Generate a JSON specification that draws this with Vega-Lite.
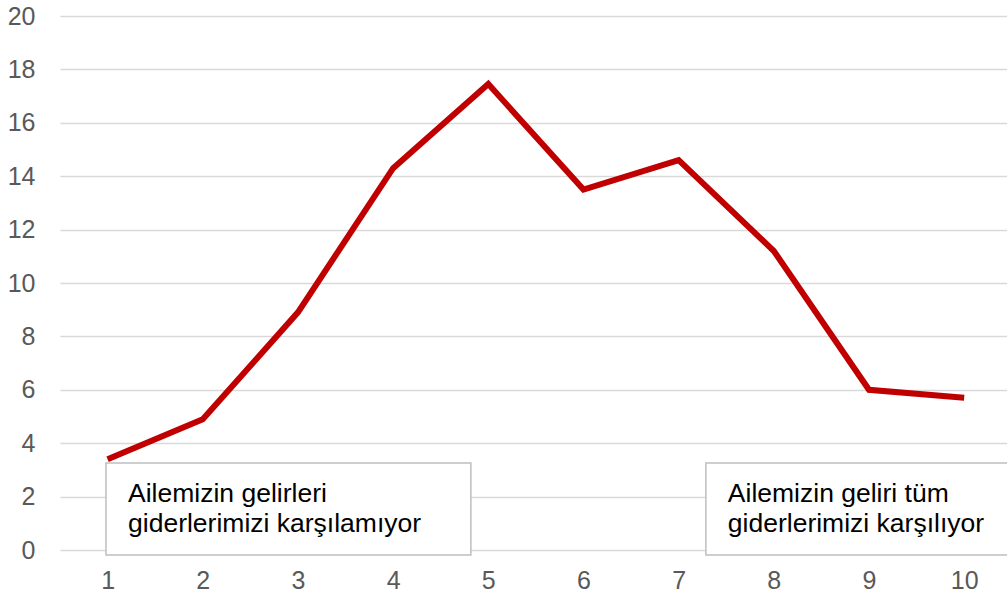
{
  "$schema": "https://vega.github.io/schema/vega-lite/v6.json",
  "autosize": "none",
  "padding": {"left": 60, "top": 16, "right": 0, "bottom": 51},
  "width": 947,
  "height": 534,
  "background": "white",
  "config": {
    "view": {"stroke": null},
    "font": "Liberation Sans"
  },
  "datasets": {
    "series": [
      {"x": 1, "y": 3.4},
      {"x": 2, "y": 4.9},
      {"x": 3, "y": 8.9},
      {"x": 4, "y": 14.3},
      {"x": 5, "y": 17.45},
      {"x": 6, "y": 13.5},
      {"x": 7, "y": 14.6},
      {"x": 8, "y": 11.2},
      {"x": 9, "y": 6.0},
      {"x": 10, "y": 5.7}
    ],
    "boxes": [
      {"x1": 0.983, "x2": 4.817, "y1": 3.26, "y2": -0.19},
      {"x1": 7.286, "x2": 10.6, "y1": 3.26, "y2": -0.19}
    ],
    "labels": [
      {"x": 1.215, "y": 1.8, "text": "Ailemizin gelirleri"},
      {"x": 1.215, "y": 0.67, "text": "giderlerimizi karşılamıyor"},
      {"x": 7.517, "y": 1.8, "text": "Ailemizin geliri tüm"},
      {"x": 7.517, "y": 0.67, "text": "giderlerimizi karşılıyor"}
    ]
  },
  "layer": [
    {
      "data": {"name": "series"},
      "mark": {"type": "line", "color": "#C00000", "strokeWidth": 6, "strokeJoin": "miter", "strokeCap": "butt", "clip": false},
      "encoding": {
        "x": {
          "field": "x", "type": "quantitative",
          "scale": {"domain": [0.5, 10.45], "nice": false, "zero": false},
          "axis": {
            "values": [1, 2, 3, 4, 5, 6, 7, 8, 9, 10],
            "format": "d",
            "title": null, "domain": false, "ticks": false, "grid": false,
            "labelFontSize": 25, "labelColor": "#595959", "labelPadding": 18,
            "labelFont": "Liberation Sans"
          }
        },
        "y": {
          "field": "y", "type": "quantitative",
          "scale": {"domain": [0, 20], "nice": false},
          "axis": {
            "values": [0, 2, 4, 6, 8, 10, 12, 14, 16, 18, 20],
            "format": "d",
            "title": null, "domain": false, "ticks": false,
            "grid": true, "gridColor": "#d9d9d9", "gridWidth": 1.5,
            "labelFontSize": 25, "labelColor": "#595959", "labelPadding": 25,
            "labelFont": "Liberation Sans"
          }
        }
      }
    },
    {
      "data": {"name": "boxes"},
      "mark": {"type": "rect", "fill": "white", "stroke": "#bfbfbf", "strokeWidth": 1.5, "clip": false},
      "encoding": {
        "x": {"field": "x1", "type": "quantitative"},
        "x2": {"field": "x2"},
        "y": {"field": "y1", "type": "quantitative"},
        "y2": {"field": "y2"}
      }
    },
    {
      "data": {"name": "labels"},
      "mark": {"type": "text", "align": "left", "baseline": "alphabetic", "fontSize": 26.5, "color": "#000000", "font": "Liberation Sans"},
      "encoding": {
        "x": {"field": "x", "type": "quantitative"},
        "y": {"field": "y", "type": "quantitative"},
        "text": {"field": "text"}
      }
    }
  ]
}
